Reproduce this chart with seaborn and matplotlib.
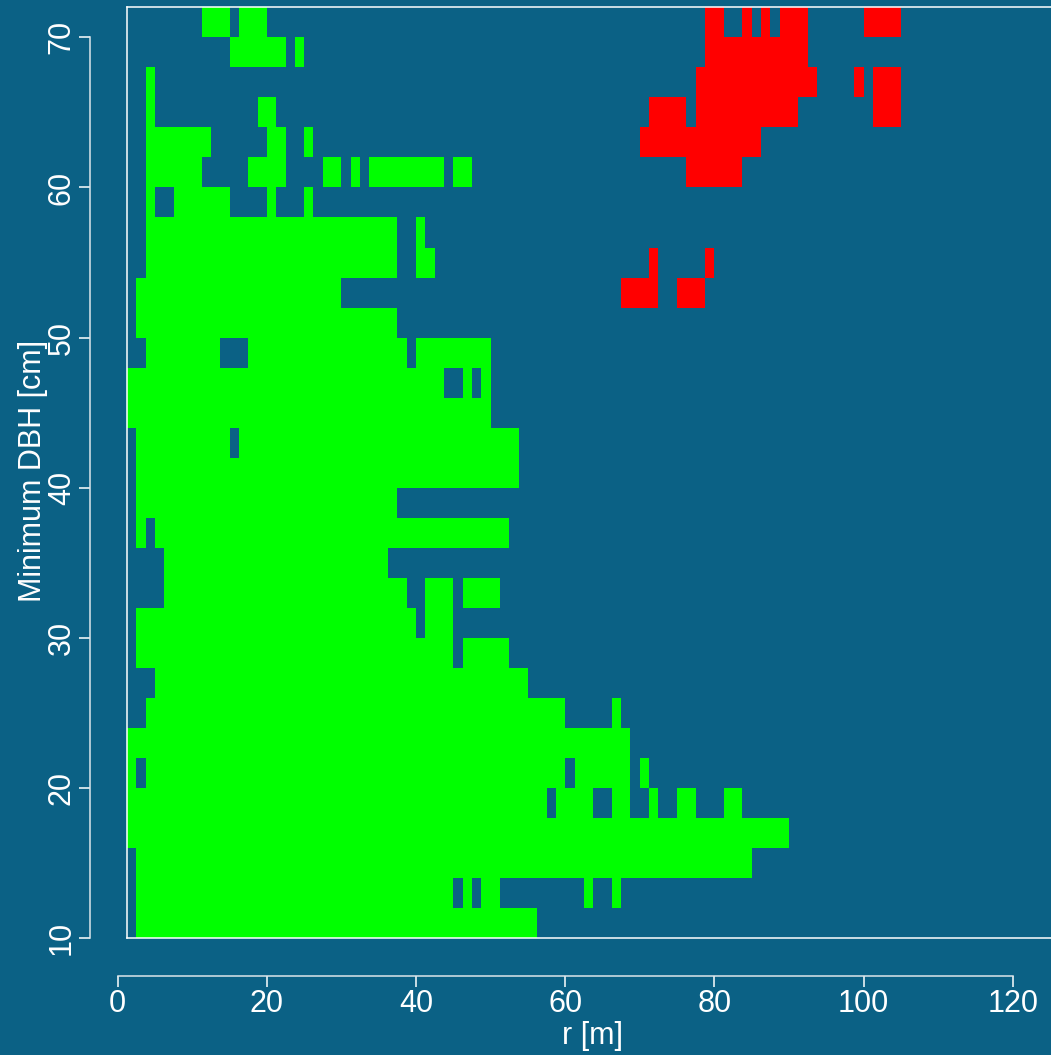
import numpy as np
import matplotlib
matplotlib.use("Agg")
import matplotlib.pyplot as plt
from matplotlib.colors import ListedColormap
import seaborn as sns

# ---- data -----------------------------------------------------------------
# Grid: distance classes of 1.25 m, DBH classes of 2 cm (lower edge of class).
cell_width = 1.25
dbh_lower = list(range(10, 72, 2))

# Occupied distance ranges (start, stop) in metres for each DBH class.
green_runs = {
    10: [(2.5, 56.25)],
    12: [(2.5, 45), (46.25, 47.5), (48.75, 51.25), (62.5, 63.75), (66.25, 67.5)],
    14: [(2.5, 85)],
    16: [(1.25, 90)],
    18: [(1.25, 57.5), (58.75, 63.75), (66.25, 68.75), (71.25, 72.5), (75, 77.5), (81.25, 83.75)],
    20: [(1.25, 2.5), (3.75, 60), (61.25, 68.75), (70, 71.25)],
    22: [(1.25, 68.75)],
    24: [(3.75, 60), (66.25, 67.5)],
    26: [(5, 55)],
    28: [(2.5, 45), (46.25, 52.5)],
    30: [(2.5, 40), (41.25, 45)],
    32: [(6.25, 38.75), (41.25, 45), (46.25, 51.25)],
    34: [(6.25, 36.25)],
    36: [(2.5, 3.75), (5, 52.5)],
    38: [(2.5, 37.5)],
    40: [(2.5, 53.75)],
    42: [(2.5, 15), (16.25, 53.75)],
    44: [(1.25, 50)],
    46: [(1.25, 43.75), (46.25, 47.5), (48.75, 50)],
    48: [(3.75, 13.75), (17.5, 38.75), (40, 50)],
    50: [(2.5, 37.5)],
    52: [(2.5, 30)],
    54: [(3.75, 37.5), (40, 42.5)],
    56: [(3.75, 37.5), (40, 41.25)],
    58: [(3.75, 5), (7.5, 15), (20, 21.25), (25, 26.25)],
    60: [(3.75, 11.25), (17.5, 22.5), (27.5, 30), (31.25, 32.5), (33.75, 43.75), (45, 47.5)],
    62: [(3.75, 12.5), (20, 22.5), (25, 26.25)],
    64: [(3.75, 5), (18.75, 21.25)],
    66: [(3.75, 5)],
    68: [(15, 22.5), (23.75, 25)],
    70: [(11.25, 15), (16.25, 20)],
}

red_runs = {
    52: [(67.5, 72.5), (75, 78.75)],
    54: [(71.25, 72.5), (78.75, 80)],
    60: [(76.25, 83.75)],
    62: [(70, 86.25)],
    64: [(71.25, 76.25), (77.5, 91.25), (101.25, 105)],
    66: [(77.5, 93.75), (98.75, 100), (101.25, 105)],
    68: [(78.75, 92.5)],
    70: [(78.75, 81.25), (83.75, 85), (86.25, 87.5), (88.75, 92.5), (100, 105)],
}

x_ticks = [0, 20, 40, 60, 80, 100, 120]
y_ticks = [10, 20, 30, 40, 50, 60, 70]

# ---- styling --------------------------------------------------------------
BG = "#0b6185"
FG = "white"
FS = 22
sns.set_style("dark", {"axes.facecolor": BG, "figure.facecolor": BG,
                       "axes.edgecolor": FG, "text.color": FG,
                       "xtick.color": FG, "ytick.color": FG})
plt.rcParams["font.family"] = ["Liberation Sans", "DejaVu Sans"]

W, H = 1051, 1055
fig = plt.figure(figsize=(W / 100, H / 100), dpi=100)
fig.patch.set_facecolor(BG)


def fx(px):
    return px / W


def fy(py):
    return 1 - py / H


# scale of the drawing: pixels per metre and per cm
sx, sy = 7.458, 15.017
x0_px, y10_px = 117.7, 938.3

# ---- build the class matrix -----------------------------------------------
x_max = 135.0
x_edges = np.arange(0, x_max + cell_width / 2, cell_width)
y_edges = np.array(dbh_lower + [dbh_lower[-1] + 2])
grid = np.zeros((len(dbh_lower), len(x_edges) - 1))
for code, runs in ((1, green_runs), (2, red_runs)):
    for lower, spans in runs.items():
        row = dbh_lower.index(lower)
        for a, b in spans:
            grid[row, int(round(a / cell_width)):int(round(b / cell_width))] = code
grid = np.ma.masked_equal(grid, 0)

# ---- main panel -------------------------------------------------------------
xlim = (1.25, x_max)
ylim = (10, 72)
ax = fig.add_axes([fx(x0_px + xlim[0] * sx), fy(y10_px),
                   fx((xlim[1] - xlim[0]) * sx), (ylim[1] - ylim[0]) * sy / H])
ax.set_facecolor(BG)
ax.pcolormesh(x_edges, y_edges, grid, cmap=ListedColormap(["#00ff00", "#ff0000"]),
              vmin=0.5, vmax=2.5, shading="flat", antialiased=False)
ax.set_xlim(*xlim)
ax.set_ylim(*ylim)
ax.set_xticks([])
ax.set_yticks([])
ax.grid(False)
for side in ("left", "top", "bottom"):
    ax.spines[side].set_visible(True)
    ax.spines[side].set_color(FG)
    ax.spines[side].set_linewidth(1.1)
ax.spines["right"].set_visible(False)

# ---- detached x axis --------------------------------------------------------
ax_x = fig.add_axes([fx(x0_px), fy(976), fx(120 * sx), 1e-4])
ax_x.patch.set_alpha(0)
ax_x.set_xlim(0, 120)
ax_x.set_xticks(x_ticks)
ax_x.set_yticks([])
ax_x.grid(False)
for side in ("left", "right", "top"):
    ax_x.spines[side].set_visible(False)
ax_x.spines["bottom"].set_visible(True)
ax_x.spines["bottom"].set_color("#dde6ea")
ax_x.spines["bottom"].set_linewidth(1.1)
ax_x.tick_params(axis="x", direction="out", length=8, width=1.1, colors=FG,
                 labelsize=FS, pad=1.5, bottom=True)

# ---- detached y axis --------------------------------------------------------
ax_y = fig.add_axes([fx(90), fy(y10_px), 1e-4, 60 * sy / H])
ax_y.patch.set_alpha(0)
ax_y.set_ylim(10, 70)
ax_y.set_yticks(y_ticks)
ax_y.set_xticks([])
ax_y.grid(False)
for side in ("bottom", "right", "top"):
    ax_y.spines[side].set_visible(False)
ax_y.spines["left"].set_visible(True)
ax_y.spines["left"].set_color("#dde6ea")
ax_y.spines["left"].set_linewidth(1.1)
ax_y.tick_params(axis="y", direction="out", length=8, width=1.1, colors=FG,
                 labelsize=FS, pad=1.5, left=True)
for lab in ax_y.get_yticklabels():
    lab.set_rotation(90)
    lab.set_va("center")
    lab.set_ha("right")

# ---- axis titles ------------------------------------------------------------
fig.text(fx(592), fy(1036), "r [m]", ha="center", va="center", fontsize=FS, color=FG)
fig.text(fx(33), fy(471), "Minimum DBH [cm]", ha="center", va="center",
         rotation=90, fontsize=FS, color=FG)

fig.savefig("out.png", dpi=100, facecolor=BG)
